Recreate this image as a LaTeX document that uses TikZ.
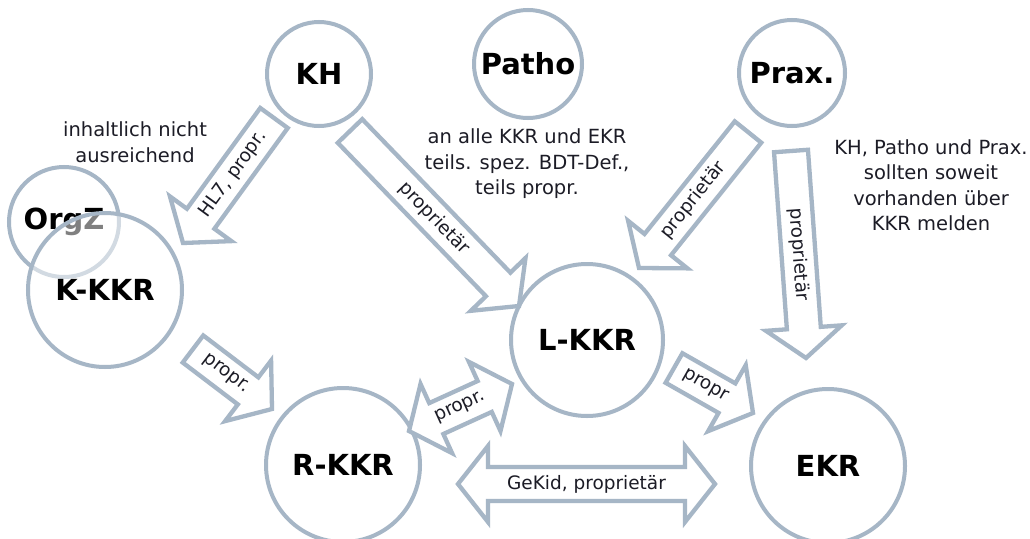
\documentclass[tikz,border=0pt]{standalone}
\usepackage{fontspec}
\setmainfont{DejaVu Sans}
\usetikzlibrary{calc}
\definecolor{frame}{RGB}{166,182,198}
\definecolor{ink}{RGB}{28,28,38}
\newcommand{\ASW}{17pt}% half shaft
\newcommand{\AHW}{38pt}% half head
\newcommand{\AHL}{30pt}% head length
% block arrow: [label pos] {tail} {tip} {label}
\newcommand{\BlockArrow}[4][0.5]{%
  \coordinate (hb) at ($(#3)!\AHL!(#2)$);
  \draw[barrow] ($(#2)!\ASW!90:(#3)$) -- ($(hb)!\ASW!90:(#3)$) -- ($(hb)!\AHW!90:(#3)$) -- (#3)
    -- ($(hb)!\AHW!-90:(#3)$) -- ($(hb)!\ASW!-90:(#3)$) -- ($(#2)!\ASW!-90:(#3)$) -- cycle;
  \path (#2) -- node[alabel, sloped, pos=#1] {#4} (#3);
}
% double block arrow: {end} {end} {label}
\newcommand{\BothArrow}[3]{%
  \coordinate (ha) at ($(#1)!\AHL!(#2)$);
  \coordinate (hb) at ($(#2)!\AHL!(#1)$);
  \draw[barrow] (#1) -- ($(ha)!\AHW!90:(#2)$) -- ($(ha)!\ASW!90:(#2)$) -- ($(hb)!\ASW!90:(#2)$) -- ($(hb)!\AHW!90:(#2)$) -- (#2)
    -- ($(hb)!\AHW!-90:(#2)$) -- ($(hb)!\ASW!-90:(#2)$) -- ($(ha)!\ASW!-90:(#2)$) -- ($(ha)!\AHW!-90:(#2)$) -- cycle;
  \path (#1) -- node[alabel, sloped] {#3} (#2);
}

\begin{document}
\begin{tikzpicture}[x=1pt, y=-1pt,
  bubble/.style={circle, draw=frame, line width=4pt, fill=white, inner sep=0pt,
    font=\fontsize{29}{31}\selectfont\bfseries},
  barrow/.style={draw=frame, line width=4.3pt, fill=white, line join=miter},
  alabel/.style={font=\fontsize{18.5}{20}\selectfont, text=ink, inner sep=0pt},
  note/.style={align=center, font=\fontsize{19.5}{25.5}\selectfont, text=ink, inner sep=0pt}]

  \useasboundingbox[fill=white] (0,0) rectangle (1030,538);

  % senders
  \node[bubble, minimum size=104pt] (kh)    at (319,74)  {KH};
  \node[bubble, minimum size=108pt] (patho) at (528,64)  {Patho};
  \node[bubble, minimum size=106pt] (prax)  at (792,73)  {Prax.};

  % registries
  \node[bubble, minimum size=110pt] (orgz)  at (64,222)  {OrgZ};
  \node[bubble, minimum size=154pt, fill opacity=0.5, text opacity=1] (kkkr) at (105,290) {K-KKR};
  \node[bubble, minimum size=152pt] (lkkr)  at (587,340) {L-KKR};
  \node[bubble, minimum size=154pt] (rkkr)  at (343,465) {R-KKR};
  \node[bubble, minimum size=154pt] (ekr)   at (828,466) {EKR};

  % notes
  \node[note] (n1) at (135,142) {inhaltlich nicht\\ausreichend};
  \node[note] (n2) at (527,164) {an alle KKR und EKR\\teils. spez. BDT-Def.,\\teils propr.};
  \node[note] (n3) at (931,185) {KH, Patho und Prax.\\sollten soweit\\vorhanden über\\KKR melden};

  % arrow ends
  \coordinate (kh-a)   at (274,118);  \coordinate (kkkr-in) at (183,243);
  \coordinate (kh-b)   at (350,131);  \coordinate (lkkr-in1) at (519,306);
  \coordinate (prax-a) at (748,132);  \coordinate (lkkr-in2) at (639,268);
  \coordinate (prax-b) at (791,151);  \coordinate (ekr-in1)  at (806,358);
  \coordinate (kkkr-out) at (193,349); \coordinate (rkkr-in) at (272,409);
  \coordinate (lkkr-out) at (674,368); \coordinate (ekr-in2) at (753,413);
  \coordinate (rkkr-l) at (409,431);  \coordinate (lkkr-r) at (512,384);
  \coordinate (rkkr-e) at (458,484);  \coordinate (ekr-r)  at (715,484);

  \BlockArrow[0.45]{kh-a}{kkkr-in}{HL7, propr.}      %% KH -> K-KKR
  \BlockArrow{kh-b}{lkkr-in1}{proprietär}             %% KH -> L-KKR
  \BlockArrow{prax-a}{lkkr-in2}{proprietär}           %% Prax -> L-KKR
  \BlockArrow{prax-b}{ekr-in1}{proprietär}            %% Prax -> EKR
  \BlockArrow[0.42]{kkkr-out}{rkkr-in}{propr.}        %% K-KKR -> R-KKR
  \BlockArrow[0.4]{lkkr-out}{ekr-in2}{propr}          %% L-KKR -> EKR
  \BothArrow{rkkr-l}{lkkr-r}{propr.}                  %% R-KKR <-> L-KKR
  \BothArrow{rkkr-e}{ekr-r}{GeKid, proprietär}        %% R-KKR <-> EKR

\end{tikzpicture}
\end{document}
